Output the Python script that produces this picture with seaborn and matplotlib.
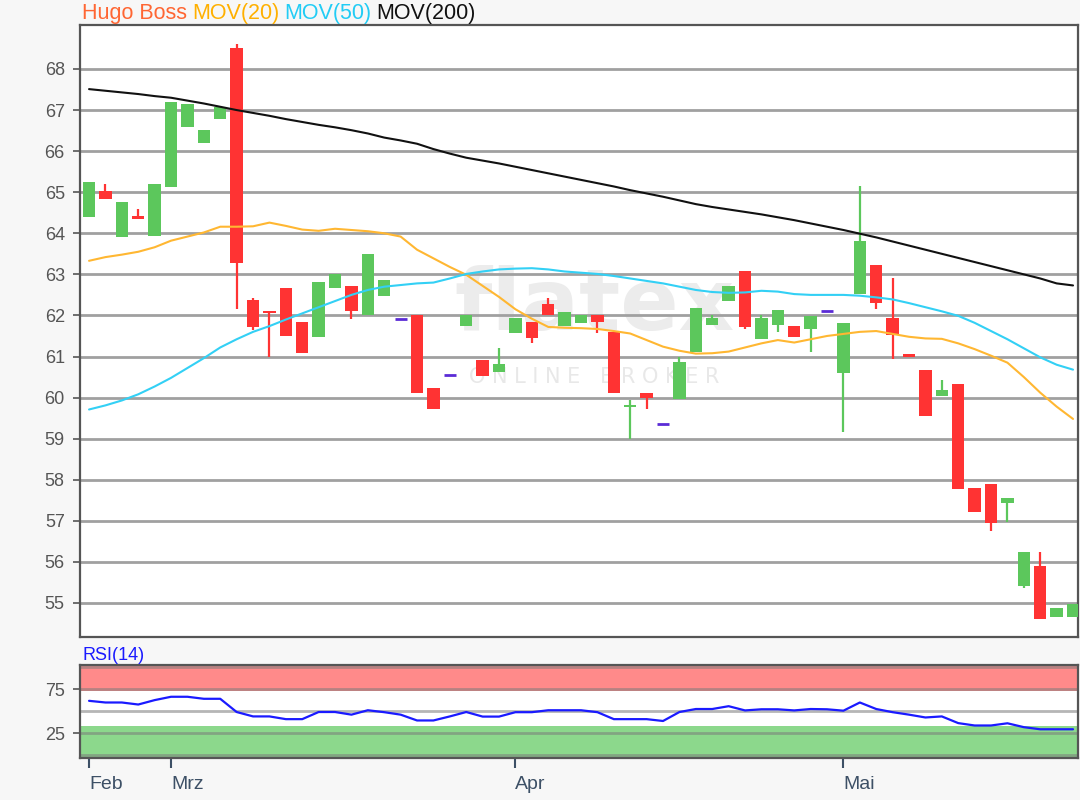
import matplotlib
matplotlib.use("Agg")
import matplotlib.pyplot as plt
import seaborn as sns

# kursdaten Hugo Boss, ein eintrag pro handelstag
opens = [64.40, 65.04, 63.90, 64.42, 63.94, 65.12, 66.58, 66.19, 66.78, 68.50,
         62.38, 62.12, 62.66, 61.83, 61.47, 62.68, 62.72, 62.00, 62.48, 61.92,
         62.00, 60.23, 60.56, 61.75, 60.92, 60.63, 61.57, 61.83, 62.28, 61.75,
         61.81, 62.00, 61.60, 59.78, 60.12, 59.35, 59.97, 61.12, 61.77, 62.34,
         63.09, 61.42, 61.77, 61.74, 61.66, 62.11, 60.59, 62.52, 63.23, 61.93,
         61.06, 60.67, 60.04, 60.33, 57.79, 57.90, 57.43, 55.42, 55.89, 54.65,
         54.65]
closes = [65.24, 64.83, 64.75, 64.35, 65.20, 67.19, 67.15, 66.52, 67.07, 63.27,
          61.71, 62.07, 61.51, 61.08, 62.81, 63.00, 62.10, 63.50, 62.86, 61.92,
          60.10, 59.72, 60.56, 62.00, 60.53, 60.81, 61.93, 61.46, 62.00, 62.08,
          62.00, 61.85, 60.10, 59.83, 60.00, 59.35, 60.86, 62.17, 61.93, 62.72,
          61.71, 61.93, 62.13, 61.47, 61.99, 62.11, 61.82, 63.82, 62.30, 61.52,
          61.00, 59.56, 60.19, 57.77, 57.22, 56.94, 57.55, 56.23, 54.60, 54.87,
          54.97]
highs = [65.24, 65.20, 64.75, 64.60, 65.20, 67.19, 67.15, 66.52, 67.07, 68.60,
         62.43, 62.12, 62.66, 61.83, 62.81, 63.02, 62.72, 63.50, 62.86, 61.92,
         62.00, 60.23, 60.56, 62.00, 60.92, 61.20, 61.93, 61.83, 62.43, 62.08,
         62.00, 62.00, 61.60, 59.93, 60.12, 59.35, 61.00, 62.17, 62.00, 62.72,
         63.09, 62.00, 62.13, 61.74, 61.99, 62.11, 61.82, 65.15, 63.23, 62.90,
         61.06, 60.67, 60.43, 60.33, 57.79, 57.90, 57.55, 56.23, 56.24, 54.87,
         54.97]
lows = [64.40, 64.83, 63.90, 64.35, 63.94, 65.12, 66.58, 66.19, 66.78, 62.15,
        61.65, 61.00, 61.51, 61.08, 61.47, 62.68, 61.91, 62.00, 62.48, 61.92,
        60.10, 59.72, 60.56, 61.75, 60.53, 60.63, 61.57, 61.32, 62.00, 61.75,
        61.81, 61.57, 60.10, 58.99, 59.72, 59.35, 59.97, 61.12, 61.77, 62.34,
        61.66, 61.42, 61.60, 61.47, 61.12, 62.11, 59.17, 62.52, 62.15, 60.93,
        61.00, 59.56, 60.04, 57.77, 57.22, 56.74, 56.98, 55.37, 54.60, 54.65,
        54.65]

# gleitende durchschnitte
mov20 = [63.33, 63.42, 63.48, 63.55, 63.66, 63.82, 63.92, 64.02, 64.16, 64.16,
         64.17, 64.26, 64.18, 64.09, 64.06, 64.11, 64.08, 64.05, 64.00, 63.92,
         63.60, 63.39, 63.18, 62.99, 62.72, 62.45, 62.15, 61.92, 61.72, 61.70,
         61.69, 61.67, 61.62, 61.56, 61.40, 61.24, 61.14, 61.07, 61.08, 61.12,
         61.22, 61.32, 61.40, 61.34, 61.42, 61.50, 61.55, 61.60, 61.62, 61.55,
         61.48, 61.44, 61.43, 61.32, 61.18, 61.02, 60.85, 60.50, 60.12, 59.78,
         59.48]
mov50 = [59.71, 59.81, 59.93, 60.08, 60.27, 60.48, 60.72, 60.96, 61.22, 61.42,
         61.60, 61.74, 61.90, 62.05, 62.20, 62.35, 62.50, 62.62, 62.70, 62.74,
         62.78, 62.80, 62.90, 63.01, 63.07, 63.12, 63.14, 63.15, 63.12, 63.07,
         63.04, 63.01, 62.96, 62.90, 62.84, 62.78, 62.70, 62.62, 62.57, 62.55,
         62.56, 62.60, 62.58, 62.52, 62.50, 62.50, 62.50, 62.48, 62.44, 62.39,
         62.30, 62.20, 62.10, 61.99, 61.82, 61.62, 61.42, 61.20, 60.98, 60.80,
         60.68]
mov200 = [67.51, 67.47, 67.43, 67.39, 67.34, 67.30, 67.23, 67.16, 67.08, 67.00,
          66.93, 66.86, 66.78, 66.71, 66.64, 66.58, 66.51, 66.43, 66.33, 66.26,
          66.18, 66.05, 65.94, 65.84, 65.77, 65.70, 65.62, 65.54, 65.46, 65.38,
          65.30, 65.22, 65.14, 65.05, 64.97, 64.89, 64.80, 64.71, 64.64, 64.58,
          64.52, 64.46, 64.39, 64.32, 64.24, 64.16, 64.08, 63.99, 63.90, 63.80,
          63.70, 63.60, 63.50, 63.40, 63.30, 63.20, 63.10, 63.00, 62.90, 62.78,
          62.73]

# RSI(14)
rsi = [61.9, 60.0, 60.0, 57.7, 62.7, 66.5, 66.5, 64.2, 64.2, 49.2,
       44.2, 44.2, 41.1, 41.1, 49.2, 49.2, 46.2, 51.2, 49.0, 46.2,
       39.6, 39.6, 44.2, 49.2, 44.0, 44.0, 49.0, 49.0, 51.2, 51.2,
       51.2, 49.0, 41.1, 41.1, 41.1, 39.0, 49.2, 52.6, 52.6, 55.8,
       51.0, 52.3, 52.3, 51.0, 52.6, 52.3, 50.7, 60.0, 52.6, 49.0,
       46.2, 43.0, 44.2, 36.6, 33.9, 33.9, 36.4, 32.0, 29.6, 29.6,
       29.6]

month_pos = [0, 5, 26, 46]
month_labels = ["Feb", "Mrz", "Apr", "Mai"]

sns.set_style("white")
plt.rcParams["font.family"] = ["Liberation Sans", "DejaVu Sans"]

bg = "#f7f7f7"
green = "#5cc75c"
red = "#ff3333"
doji = "#5b2bd6"
grid_c = "#a0a0a0"
frame_c = "#555555"

fig = plt.figure(figsize=(10.8, 8), dpi=100, facecolor=bg)
ax = fig.add_axes([0.0741, 0.2037, 0.924, 0.765])
ax2 = fig.add_axes([0.0741, 0.0525, 0.924, 0.1163])

days = list(range(len(closes)))

# hauptchart
for y in range(55, 69):
    ax.axhline(y, color=grid_c, lw=2, zorder=1)

# wasserzeichen
ax.text(0.515, 0.54, "flatex", transform=ax.transAxes, ha="center", va="center",
        fontsize=62, fontweight="bold", color="#ececec", family="DejaVu Sans", zorder=0.5)
ax.text(0.515, 0.425, "O N L I N E   B R O K E R", transform=ax.transAxes, ha="center",
        va="center", fontsize=15, color="#e8e8e8", family="DejaVu Sans", zorder=0.5)

cols = []
for o, c in zip(opens, closes):
    if c > o:
        cols.append(green)
    elif c < o:
        cols.append(red)
    else:
        cols.append(doji)

ax.vlines(days, lows, highs, colors=cols, lw=1.6, zorder=3)
body_lo = [min(o, c) for o, c in zip(opens, closes)]
body_h = [abs(c - o) for o, c in zip(opens, closes)]
ax.bar(days, body_h, bottom=body_lo, width=0.75, color=cols, zorder=3, linewidth=0)
flat = [d for d in days if opens[d] == closes[d]]
ax.hlines([closes[d] for d in flat], [d - 0.37 for d in flat], [d + 0.37 for d in flat],
          colors=doji, lw=2, zorder=3)

sns.lineplot(x=days, y=mov20, ax=ax, color="#ffb732", lw=1.5, zorder=4)
sns.lineplot(x=days, y=mov50, ax=ax, color="#33d0f5", lw=1.5, zorder=4)
sns.lineplot(x=days, y=mov200, ax=ax, color="#111111", lw=1.5, zorder=4)

ax.set_xlim(-0.55, 60.3)
ax.set_ylim(54.17, 69.07)
ax.set_yticks(range(55, 69))
ax.set_xticks([])
ax.tick_params(axis="y", left=True, direction="out", length=5, width=1.2, color=frame_c,
               labelsize=13, labelcolor="#555555", pad=6)
ax.set_facecolor("white")
for s in ax.spines.values():
    s.set_color(frame_c)
    s.set_linewidth(1.6)

# RSI panel
ax2.set_facecolor("white")
ax2.axhspan(73.4, 102.6, color="#ff8a8a", lw=0, zorder=0)
ax2.axhspan(-3, 33.3, color="#8cd88c", lw=0, zorder=0)
for y in [0, 25, 50, 75, 100]:
    ax2.axhline(y, color="#7a7a7a", alpha=0.55, lw=2, zorder=1)
sns.lineplot(x=days, y=rsi, ax=ax2, color="#1a1aff", lw=1.6, zorder=3)
ax2.set_xlim(-0.55, 60.3)
ax2.set_ylim(-3, 102.6)
ax2.set_yticks([25, 75])
ax2.set_xticks(month_pos)
ax2.set_xticklabels(month_labels)
ax2.tick_params(axis="y", left=True, direction="out", length=5, width=1.2, color=frame_c,
                labelsize=13, labelcolor="#555555", pad=6)
ax2.tick_params(axis="x", bottom=True, direction="out", length=7, width=1.5, color="#3d5066",
                labelsize=14, labelcolor="#3d5066", pad=6)
for lab in ax2.get_xticklabels():
    lab.set_horizontalalignment("left")
for s in ax2.spines.values():
    s.set_color(frame_c)
    s.set_linewidth(1.6)

# legende oben als farbiger text
renderer = fig.canvas.get_renderer()
x0 = 82 / 1080
for txt, col in [("Hugo Boss", "#ff6633"), ("MOV(20)", "#ffb000"),
                 ("MOV(50)", "#22ccf5"), ("MOV(200)", "#111111")]:
    t = fig.text(x0, 1 - 14 / 800, txt, color=col, fontsize=15.5, va="center", ha="left")
    bb = t.get_window_extent(renderer)
    x0 += (bb.width + 5) / 1080

fig.text(82 / 1080, 1 - 655 / 800, "RSI(14)", color="#1a1aff", fontsize=13,
         va="center", ha="left")

fig.savefig("out.png", dpi=100, facecolor=bg)
